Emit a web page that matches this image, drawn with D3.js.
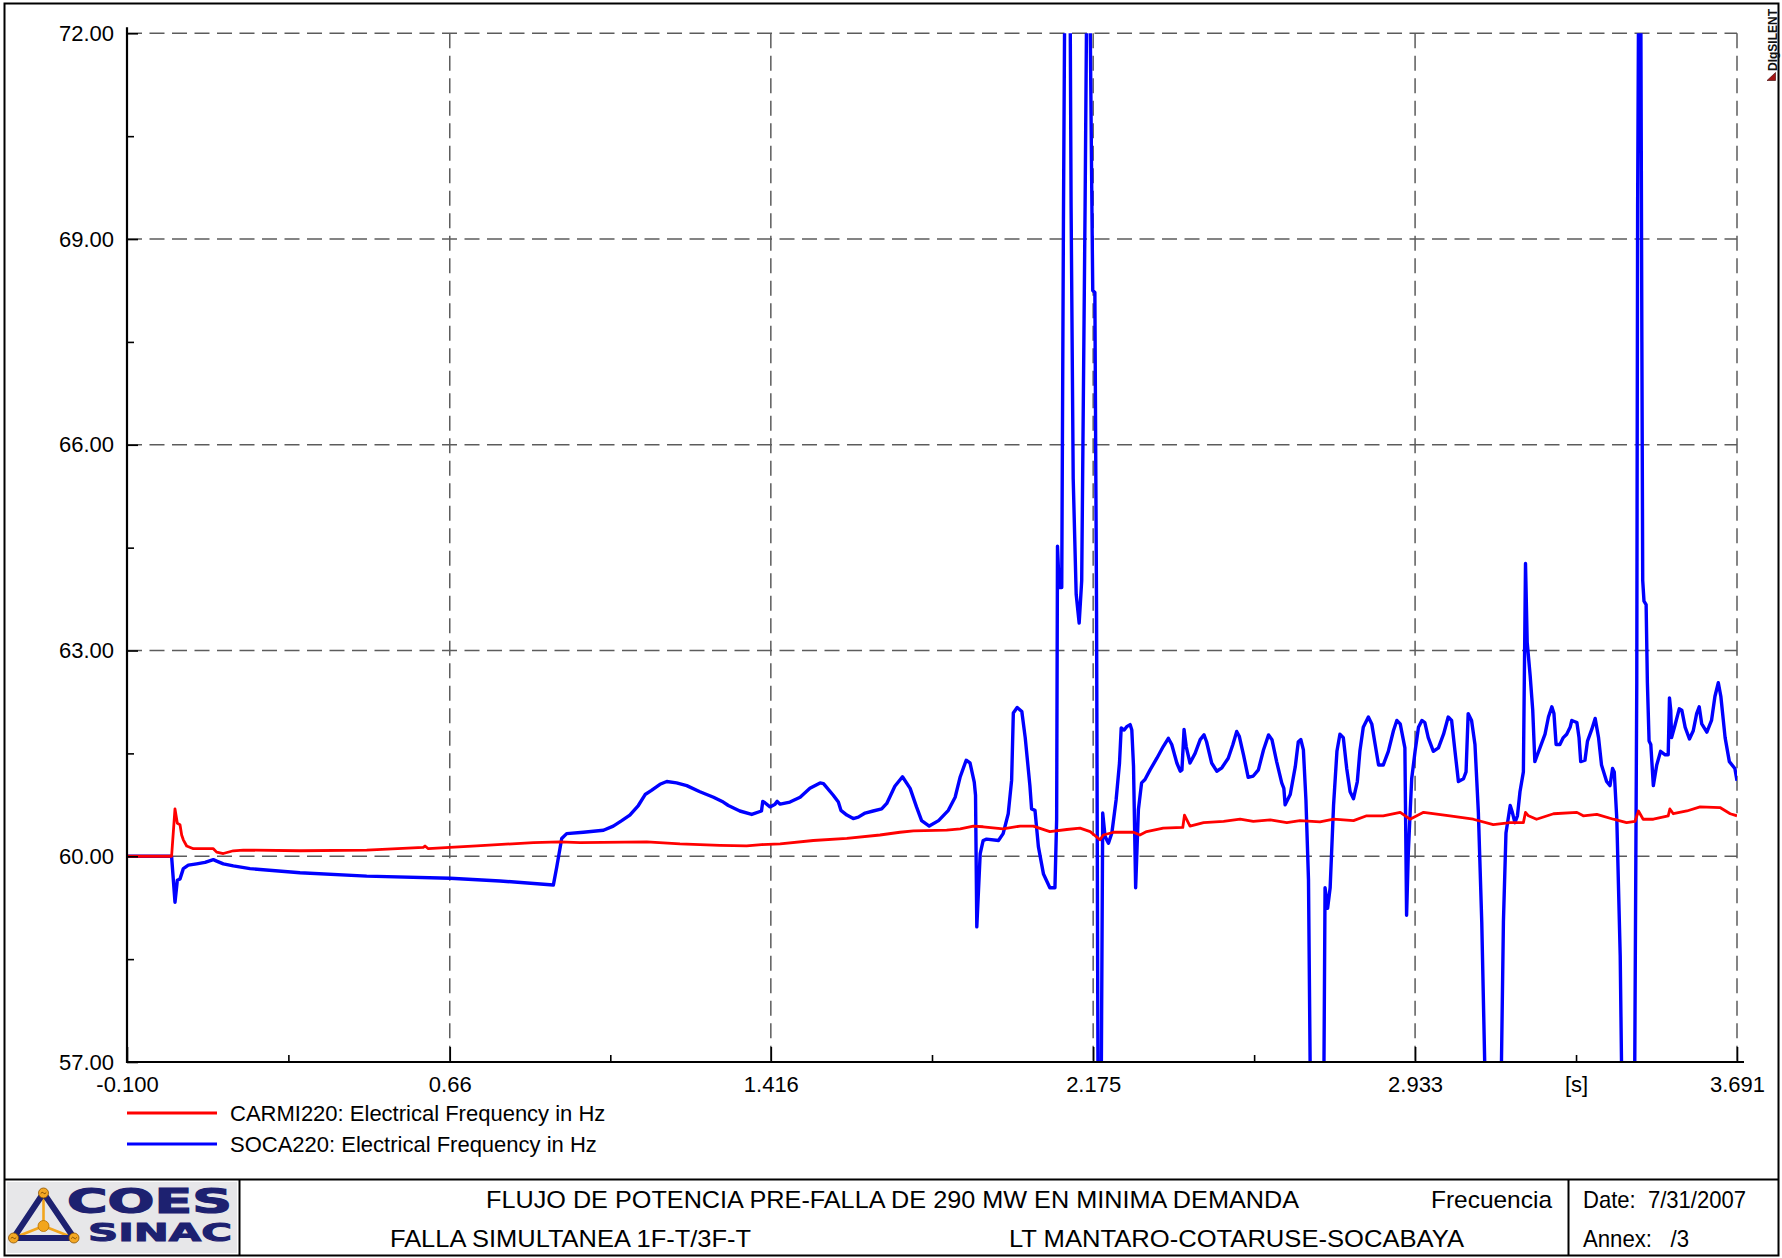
<!DOCTYPE html>
<html>
<head>
<meta charset="utf-8">
<script src="https://cdn.jsdelivr.net/npm/d3@7"></script>
<style>
  html, body { margin: 0; padding: 0; background: #fff; }
  svg { display: block; font-family: "Liberation Sans", Arial, sans-serif; }
  .pre { white-space: pre; }
</style>
</head>
<body>
<svg id="chart" width="1782" height="1258"></svg>
<script>
// ---- Axis definitions ----
const yTickValues = [57, 60, 63, 66, 69, 72];
const yTickLabels = ["57.00", "60.00", "63.00", "66.00", "69.00", "72.00"];
const yMinorTicks = [58.5, 61.5, 64.5, 67.5, 70.5];
const xTickValues = [-0.1, 0.66, 1.416, 2.175, 2.933, 3.691];
const xTickLabels = ["-0.100", "0.66", "1.416", "2.175", "2.933", "3.691"];
const xMinorTicks = [0.28, 1.038, 1.7955, 2.554, 3.312];
const xUnitLabel = "[s]";
const xUnitAt = 3.312;

// ---- Series: CARMI220 electrical frequency (Hz) ----
const carmiTime = [-0.100, 0.005, 0.013, 0.0185, 0.0248, 0.0287, 0.0326, 0.0405, 0.0562, 0.1033,
  0.1111, 0.1268, 0.1503, 0.1739, 0.3074, 0.4644, 0.5977, 0.6017, 0.6095, 0.6606,
  0.7234, 0.8568, 0.9196, 0.967, 1.124, 1.202, 1.296, 1.359, 1.394, 1.438,
  1.516, 1.595, 1.673, 1.720, 1.752, 1.830, 1.862, 1.893, 1.916, 1.963,
  2.003, 2.034, 2.073, 2.113, 2.144, 2.168, 2.191, 2.199, 2.223, 2.270,
  2.285, 2.301, 2.340, 2.386, 2.390, 2.403, 2.435, 2.482, 2.521, 2.552,
  2.592, 2.631, 2.662, 2.709, 2.741, 2.788, 2.819, 2.858, 2.898, 2.921,
  2.953, 3.015, 3.070, 3.117, 3.157, 3.188, 3.193, 3.200, 3.219, 3.259,
  3.314, 3.329, 3.361, 3.400, 3.431, 3.451, 3.459, 3.470, 3.494, 3.529,
  3.533, 3.541, 3.573, 3.604, 3.651, 3.675, 3.691];
const carmiHz = [60.00, 60.00, 60.69, 60.48, 60.46, 60.31, 60.24, 60.15, 60.11, 60.11,
  60.06, 60.04, 60.08, 60.09, 60.08, 60.09, 60.13, 60.15, 60.11, 60.13,
  60.15, 60.20, 60.21, 60.20, 60.21, 60.18, 60.16, 60.15, 60.17, 60.18,
  60.23, 60.26, 60.31, 60.35, 60.37, 60.38, 60.40, 60.44, 60.43, 60.40,
  60.44, 60.44, 60.36, 60.39, 60.41, 60.36, 60.24, 60.31, 60.35, 60.35,
  60.31, 60.36, 60.41, 60.42, 60.60, 60.44, 60.49, 60.51, 60.54, 60.51,
  60.53, 60.49, 60.52, 60.50, 60.54, 60.52, 60.59, 60.59, 60.64, 60.54,
  60.64, 60.59, 60.54, 60.46, 60.49, 60.49, 60.64, 60.59, 60.54, 60.62,
  60.64, 60.59, 60.61, 60.54, 60.49, 60.51, 60.66, 60.54, 60.54, 60.59,
  60.69, 60.62, 60.66, 60.72, 60.71, 60.62, 60.59];

// ---- Series: SOCA220 electrical frequency (Hz) ----
const socaTime = [-0.100, 0.005, 0.013, 0.0185, 0.0248, 0.0326, 0.0444, 0.064, 0.0837, 0.1033,
  0.1111, 0.1268, 0.1503, 0.1896, 0.3074, 0.4644, 0.6606, 0.7783, 0.9039, 0.9118,
  0.9236, 0.9353, 0.9746, 1.022, 1.045, 1.065, 1.084, 1.104, 1.120, 1.135,
  1.155, 1.171, 1.194, 1.218, 1.249, 1.281, 1.304, 1.316, 1.343, 1.371,
  1.394, 1.397, 1.402, 1.414, 1.426, 1.431, 1.438, 1.461, 1.485, 1.508,
  1.532, 1.540, 1.563, 1.575, 1.581, 1.595, 1.610, 1.622, 1.638, 1.657,
  1.677, 1.689, 1.708, 1.726, 1.744, 1.759, 1.771, 1.789, 1.811, 1.834,
  1.850, 1.862, 1.876, 1.885, 1.895, 1.898, 1.901, 1.909, 1.916, 1.924,
  1.952, 1.963, 1.975, 1.983, 1.987, 1.996, 2.007, 2.015, 2.026, 2.030,
  2.038, 2.046, 2.058, 2.073, 2.085, 2.089, 2.091, 2.095, 2.101, 2.105,
  2.109, 2.120, 2.123, 2.128, 2.135, 2.142, 2.148, 2.156, 2.161, 2.166,
  2.172, 2.174, 2.179, 2.183, 2.187, 2.193, 2.1975, 2.203, 2.211, 2.219,
  2.229, 2.237, 2.241, 2.248, 2.254, 2.262, 2.266, 2.270, 2.275, 2.2815,
  2.289, 2.297, 2.309, 2.325, 2.340, 2.352, 2.360, 2.372, 2.380, 2.384,
  2.389, 2.394, 2.403, 2.415, 2.427, 2.436, 2.442, 2.454, 2.466, 2.478,
  2.493, 2.504, 2.513, 2.519, 2.529, 2.540, 2.552, 2.564, 2.576, 2.588,
  2.596, 2.607, 2.619, 2.624, 2.627, 2.639, 2.651, 2.658, 2.664, 2.670,
  2.676, 2.682, 2.688, 2.717,
  2.721, 2.727, 2.733, 2.741, 2.749, 2.756, 2.764, 2.772, 2.780, 2.788,
  2.797, 2.803, 2.811, 2.823, 2.831, 2.839, 2.847, 2.858, 2.870, 2.882,
  2.890, 2.898, 2.909, 2.913, 2.917, 2.925, 2.933, 2.941, 2.949, 2.956,
  2.964, 2.976, 2.988, 3.000, 3.011, 3.019, 3.027, 3.035, 3.047, 3.053,
  3.058, 3.066, 3.074, 3.082, 3.090, 3.102, 3.133, 3.141, 3.147, 3.157,
  3.162, 3.168, 3.174, 3.180, 3.188, 3.193, 3.197, 3.204, 3.210, 3.215,
  3.221, 3.227, 3.239, 3.247, 3.255, 3.260, 3.265, 3.274, 3.282, 3.290,
  3.298, 3.302, 3.314, 3.319, 3.323, 3.333, 3.339, 3.349, 3.357, 3.365,
  3.372, 3.384, 3.392, 3.398, 3.402, 3.408, 3.416, 3.422, 3.449, 3.455,
  3.457, 3.460, 3.464, 3.467, 3.469, 3.472, 3.477, 3.480, 3.484, 3.488,
  3.494, 3.502, 3.511, 3.522, 3.529, 3.532, 3.535, 3.537, 3.545, 3.555,
  3.561, 3.569, 3.579, 3.588, 3.596, 3.602, 3.608, 3.620, 3.631, 3.639,
  3.647, 3.653, 3.663, 3.673, 3.686, 3.691];
const socaHz = [60.00, 60.00, 59.33, 59.65, 59.67, 59.82, 59.87, 59.89, 59.91, 59.95,
  59.93, 59.89, 59.86, 59.82, 59.76, 59.71, 59.68, 59.64, 59.58, 59.84,
  60.26, 60.33, 60.35, 60.38, 60.44, 60.52, 60.60, 60.74, 60.90, 60.96,
  61.05, 61.09, 61.07, 61.03, 60.94, 60.86, 60.79, 60.74, 60.66, 60.61,
  60.66, 60.80, 60.78, 60.72, 60.76, 60.80, 60.76, 60.79, 60.86, 60.99,
  61.07, 61.06, 60.89, 60.79, 60.67, 60.60, 60.55, 60.57, 60.63, 60.66,
  60.69, 60.77, 61.02, 61.16, 60.99, 60.72, 60.52, 60.44, 60.52, 60.67,
  60.86, 61.16, 61.40, 61.36, 61.08, 60.89, 58.97, 60.04, 60.23, 60.25,
  60.23, 60.33, 60.62, 61.11, 62.09, 62.17, 62.11, 61.73, 61.03, 60.69,
  60.67, 60.14, 59.74, 59.54, 59.54, 60.54, 64.52, 63.92, 63.92, 69.29,
  73.50, 73.50, 69.49, 65.50, 63.82, 63.40, 64.02, 69.49, 73.50, 73.50,
  69.49, 68.25, 68.22, 63.52, 55.50, 55.50, 60.63, 60.29, 60.19, 60.34,
  60.82, 61.36, 61.87, 61.84, 61.89, 61.92, 61.84, 61.31, 59.54, 60.68,
  61.07, 61.12, 61.26, 61.43, 61.60, 61.72, 61.63, 61.36, 61.24, 61.26,
  61.85, 61.60, 61.36, 61.50, 61.70, 61.77, 61.67, 61.36, 61.24, 61.29,
  61.43, 61.63, 61.82, 61.75, 61.48, 61.15, 61.17, 61.26, 61.55, 61.77,
  61.70, 61.38, 61.07, 60.99, 60.75, 60.90, 61.31, 61.67, 61.70, 61.55,
  60.82, 59.66, 55.50, 55.50,
  59.54, 59.24, 59.54, 60.74, 61.53, 61.78, 61.73, 61.28, 60.94, 60.84,
  61.09, 61.53, 61.88, 62.03, 61.93, 61.63, 61.33, 61.33, 61.53, 61.83,
  61.98, 61.93, 61.58, 59.14, 60.04, 61.13, 61.53, 61.88, 61.98, 61.95,
  61.73, 61.53, 61.58, 61.78, 62.03, 61.98, 61.53, 61.09, 61.13, 61.23,
  62.08, 61.98, 61.63, 60.64, 59.04, 55.50, 55.50, 59.04, 60.34, 60.74,
  60.64, 60.49, 60.59, 60.94, 61.23, 64.27, 63.12, 62.63, 62.13, 61.38,
  61.48, 61.58, 61.78, 62.03, 62.18, 62.08, 61.63, 61.63, 61.73, 61.78,
  61.88, 61.98, 61.95, 61.73, 61.38, 61.40, 61.68, 61.85, 62.01, 61.73,
  61.33, 61.09, 61.03, 61.28, 61.23, 60.54, 58.55, 55.50, 55.50, 62.53,
  69.49, 73.50, 73.50, 67.50, 64.02, 63.72, 63.67, 62.53, 61.68, 61.63,
  61.03, 61.33, 61.53, 61.48, 61.48, 62.31, 62.13, 61.73, 61.91, 62.15,
  62.13, 61.88, 61.71, 61.83, 62.08, 62.18, 61.93, 61.81, 61.98, 62.33,
  62.53, 62.33, 61.73, 61.38, 61.28, 61.10];

const seriesNames = ["CARMI220: Electrical Frequency in Hz", "SOCA220: Electrical Frequency in Hz"];
const seriesColors = ["#ff0000", "#0000ff"];

// ---- Title block texts ----
const titleMain = "FLUJO DE POTENCIA PRE-FALLA DE 290 MW EN MINIMA DEMANDA";
const titleSub = "FALLA SIMULTANEA 1F-T/3F-T";
const titleLine = "LT MANTARO-COTARUSE-SOCABAYA";
const titleKind = "Frecuencia";
const dateText = "Date:  7/31/2007";
const annexText = "Annex:   /3";

// ---- Drawing ----
const svg = d3.select("#chart");
svg.append("rect").attr("width", 1782).attr("height", 1258).attr("fill", "#fff");

const x = d3.scaleLinear().domain([-0.1, 3.691]).range([127, 1737]);
const y = d3.scaleLinear().domain([57, 72]).range([1062, 33.3]);

// grid
const grid = svg.append("g").attr("stroke", "#5c5c5c").attr("stroke-width", 1.5)
  .attr("stroke-dasharray", "15,7.5").attr("fill", "none");
grid.selectAll("line.h").data(yTickValues.filter(v => v > 57)).join("line")
  .attr("x1", x(-0.1)).attr("x2", x(3.691))
  .attr("y1", d => y(d)).attr("y2", d => y(d));
grid.selectAll("line.v").data(xTickValues.filter(v => v > -0.1)).join("line")
  .attr("y1", y(72)).attr("y2", y(57))
  .attr("x1", d => x(d)).attr("x2", d => x(d));

// curves
svg.append("clipPath").attr("id", "plotClip").append("rect")
  .attr("x", x(-0.1)).attr("y", y(72)).attr("width", x(3.691) - x(-0.1)).attr("height", y(57) - y(72));

const line = d3.line().x(d => x(d[0])).y(d => y(d[1]));
const plot = svg.append("g").attr("clip-path", "url(#plotClip)");
plot.append("path").datum(d3.zip(socaTime, socaHz))
  .attr("d", line).attr("fill", "none").attr("stroke", seriesColors[1])
  .attr("stroke-width", 3.4).attr("stroke-linejoin", "round");
plot.append("path").datum(d3.zip(carmiTime, carmiHz))
  .attr("d", line).attr("fill", "none").attr("stroke", seriesColors[0])
  .attr("stroke-width", 2.8).attr("stroke-linejoin", "round");

// axes
function styleAxis(g) {
  g.select(".domain").remove();
  g.selectAll(".tick line").attr("stroke", "#000").attr("stroke-width", 1.6);
  g.selectAll("text").attr("font-family", "'Liberation Sans', Arial, sans-serif")
    .attr("font-size", 22).attr("fill", "#000");
}
const yAxis = d3.axisLeft(y).tickValues(yTickValues).tickFormat((d, i) => yTickLabels[i])
  .tickSizeInner(-11).tickSizeOuter(0).tickPadding(13);
svg.append("g").attr("transform", `translate(${x(-0.1)},0)`).call(yAxis).call(styleAxis);
const yMinor = d3.axisLeft(y).tickValues(yMinorTicks).tickFormat("").tickSizeInner(-7).tickSizeOuter(0);
svg.append("g").attr("transform", `translate(${x(-0.1)},0)`).call(yMinor).call(styleAxis);

const xAxis = d3.axisBottom(x).tickValues(xTickValues).tickFormat((d, i) => xTickLabels[i])
  .tickSizeInner(-15).tickSizeOuter(0).tickPadding(14);
svg.append("g").attr("transform", `translate(0,${y(57)})`).call(xAxis).call(styleAxis);
const xMinor = d3.axisBottom(x).tickValues(xMinorTicks)
  .tickFormat(d => (d === xUnitAt ? xUnitLabel : ""))
  .tickSizeInner(-7).tickSizeOuter(0).tickPadding(14);
svg.append("g").attr("transform", `translate(0,${y(57)})`).call(xMinor).call(styleAxis);

// axis lines
svg.append("line").attr("x1", x(-0.1)).attr("x2", x(-0.1)).attr("y1", y(57) + 1).attr("y2", y(72) - 6)
  .attr("stroke", "#000").attr("stroke-width", 2.2);
svg.append("line").attr("x1", x(-0.1) - 1).attr("x2", x(3.691) + 7).attr("y1", y(57)).attr("y2", y(57))
  .attr("stroke", "#000").attr("stroke-width", 2.2);

// legend
const legend = svg.append("g");
seriesNames.forEach((name, i) => {
  const ly = 1113 + i * 31;
  legend.append("line").attr("x1", 127).attr("x2", 217).attr("y1", ly).attr("y2", ly)
    .attr("stroke", seriesColors[i]).attr("stroke-width", 3);
  legend.append("text").attr("x", 230).attr("y", ly).attr("dy", "0.35em")
    .attr("font-size", 22).attr("fill", "#000").text(name);
});

// outer frame and title block
svg.append("rect").attr("x", 4.5).attr("y", 3.5).attr("width", 1774).attr("height", 1252)
  .attr("fill", "none").attr("stroke", "#000").attr("stroke-width", 2);
svg.append("line").attr("x1", 4.5).attr("x2", 1778.5).attr("y1", 1179.5).attr("y2", 1179.5)
  .attr("stroke", "#000").attr("stroke-width", 2);
[239.5, 1568.5].forEach(px => {
  svg.append("line").attr("x1", px).attr("x2", px).attr("y1", 1179.5).attr("y2", 1255.5)
    .attr("stroke", "#000").attr("stroke-width", 2);
});

function blockText(str, xPos, base, len, anchor) {
  svg.append("text").attr("class", "pre").attr("x", xPos).attr("y", base)
    .attr("font-size", 24).attr("fill", "#000")
    .attr("text-anchor", anchor || "start")
    .attr("textLength", len).attr("lengthAdjust", "spacingAndGlyphs").text(str);
}
blockText(titleMain, 486, 1207.5, 813);
blockText(titleKind, 1431, 1207.5, 121);
blockText(titleSub, 390, 1246.5, 361);
blockText(titleLine, 1009, 1246.5, 455);
blockText(dateText, 1583, 1207.5, 163);
blockText(annexText, 1583, 1246.5, 106);

// software mark in the top-right corner
svg.append("text").attr("transform", "translate(1776.5,71) rotate(-90)")
  .attr("font-size", 12).attr("font-weight", "bold").attr("fill", "#111")
  .text("DIgSILENT");
svg.append("polygon").attr("points", "1775.5,72.5 1775.5,80.5 1767,80.5")
  .attr("fill", "#a31515").attr("stroke", "#3a0000").attr("stroke-width", 0.6);

// COES SINAC logo
const logo = svg.append("g");
logo.append("rect").attr("x", 7).attr("y", 1182).attr("width", 230).attr("height", 71).attr("fill", "#e7e7e9");
const apex = [43.5, 1193], left = [13.5, 1238], right = [74, 1238], mid = [43.5, 1226];
[apex, left, right].forEach(p => {
  logo.append("line").attr("x1", mid[0]).attr("y1", mid[1]).attr("x2", p[0]).attr("y2", p[1])
    .attr("stroke", "#f2a51d").attr("stroke-width", 2.6);
});
logo.append("polygon").attr("points", [apex, left, right].map(p => p.join(",")).join(" "))
  .attr("fill", "none").attr("stroke", "#1d2170").attr("stroke-width", 6).attr("stroke-linejoin", "round");
logo.append("circle").attr("cx", mid[0]).attr("cy", mid[1]).attr("r", 5.5)
  .attr("fill", "#f2a51d").attr("stroke", "#b46f00").attr("stroke-width", 0.8);
[apex, left, right].forEach(p => {
  logo.append("circle").attr("cx", p[0]).attr("cy", p[1]).attr("r", 5)
    .attr("fill", "#f4a824").attr("stroke", "#8a5200").attr("stroke-width", 0.8);
  logo.append("path").attr("d", `M${p[0] - 2.8},${p[1] + 0.6} q1.4,-2.4 2.8,-0.6 q1.4,1.8 2.8,-0.6`)
    .attr("fill", "none").attr("stroke", "#6a3c00").attr("stroke-width", 0.8);
});
logo.append("text").attr("x", 67).attr("y", 1213).attr("font-family", "'DejaVu Sans', sans-serif")
  .attr("font-weight", "bold").attr("font-size", 33).attr("fill", "#1d2170")
  .attr("stroke", "#1d2170").attr("stroke-width", 1.2)
  .attr("textLength", 165).attr("lengthAdjust", "spacingAndGlyphs").text("COES");
logo.append("text").attr("x", 88).attr("y", 1241).attr("font-family", "'DejaVu Sans', sans-serif")
  .attr("font-weight", "bold").attr("font-size", 25).attr("fill", "#1d2170")
  .attr("stroke", "#1d2170").attr("stroke-width", 1)
  .attr("textLength", 144).attr("lengthAdjust", "spacingAndGlyphs").text("SINAC");
</script>
</body>
</html>
